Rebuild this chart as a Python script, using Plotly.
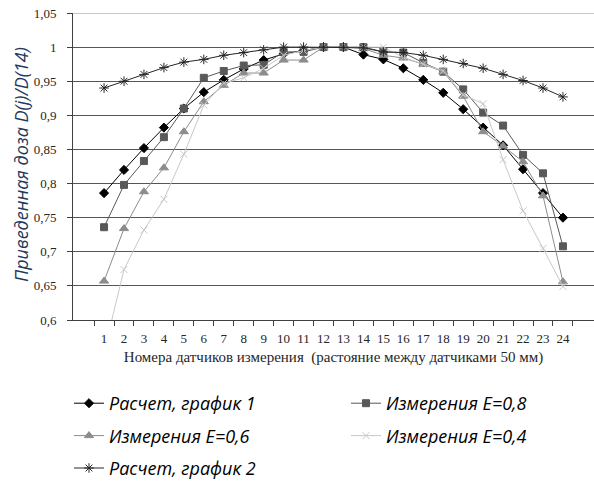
import plotly.graph_objects as go

categories = [str(i) for i in range(1, 25)]

calc1 = [0.786, 0.820, 0.852, 0.882, 0.910, 0.934, 0.952, 0.968, 0.981, 0.990, 0.995, 1.000,
         1.000, 0.989, 0.982, 0.969, 0.952, 0.933, 0.909, 0.882, 0.856, 0.821, 0.786, 0.750]
meas08 = [0.736, 0.798, 0.833, 0.868, 0.910, 0.955, 0.965, 0.973, 0.974, 0.993, 0.993, 1.000,
          1.000, 1.000, 0.993, 0.992, 0.977, 0.964, 0.938, 0.904, 0.885, 0.842, 0.815, 0.708]
meas06 = [0.657, 0.734, 0.788, 0.823, 0.876, 0.920, 0.944, 0.962, 0.962, 0.981, 0.981, 1.000,
          1.000, 0.998, 0.988, 0.984, 0.975, 0.964, 0.928, 0.876, 0.855, 0.832, 0.782, 0.656]
meas04 = [0.553, 0.674, 0.732, 0.777, 0.843, 0.915, 0.947, 0.955, 0.969, 0.988, 0.995, 1.000,
          1.000, 1.000, 1.000, 0.985, 0.975, 0.965, 0.930, 0.917, 0.835, 0.760, 0.705, 0.649]
calc2 = [0.940, 0.950, 0.960, 0.970, 0.978, 0.982, 0.988, 0.992, 0.996, 1.000, 1.000, 1.000,
         1.000, 0.999, 0.993, 0.992, 0.988, 0.982, 0.976, 0.969, 0.960, 0.951, 0.940, 0.927]

ytick_vals = [0.6, 0.65, 0.7, 0.75, 0.8, 0.85, 0.9, 0.95, 1.0, 1.05]
ytick_text = ["0,6", "0,65", "0,7", "0,75", "0,8", "0,85", "0,9", "0,95", "1", "1,05"]
y_max = 1.05

y_title = "Приведенная доза D(j)/D(14)"
x_title = "Номера датчиков измерения  (растояние между датчиками 50 мм)"

# name, values, colour, symbol, size, legend column
series = [
    ("Расчет, график 1", calc1, "#000000", "diamond", 7, "legend"),
    ("Измерения E=0,8", meas08, "#595959", "square", 7, "legend2"),
    ("Измерения E=0,6", meas06, "#8c8c8c", "triangle-up", 8, "legend"),
    ("Измерения E=0,4", meas04, "#c8c8c8", "x-thin-open", 7, "legend2"),
    ("Расчет, график 2", calc2, "#262626", "asterisk-open", 8, "legend"),
]

fig = go.Figure()
for i, (name, vals, col, sym, sz, lg) in enumerate(series):
    fig.add_trace(go.Scatter(
        x=categories, y=vals, name=name, mode="lines+markers",
        line=dict(color=col, width=1),
        marker=dict(symbol=sym, size=sz, color=col, line=dict(color=col, width=1)),
        legend=lg, legendgroup="g%d" % i,
    ))

W, H = 594, 482
ML, MT, MB = 73, 13, 162
PW, PH = W - ML, H - MT - MB
legend_font = dict(family="Open Sans", size=18, color="#000000", style="italic")
fig.update_layout(
    width=W, height=H,
    margin=dict(l=ML, r=0, t=MT, b=MB, autoexpand=False),
    paper_bgcolor="white", plot_bgcolor="white",
    showlegend=True,
    legend=dict(
        orientation="v", xref="container", yref="container",
        x=69 / W, y=(H - 385) / H, xanchor="left", yanchor="top",
        font=legend_font, tracegroupgap=6, itemwidth=30,
        bgcolor="rgba(0,0,0,0)",
    ),
    legend2=dict(
        orientation="v", xref="container", yref="container",
        x=346 / W, y=(H - 385) / H, xanchor="left", yanchor="top",
        font=legend_font, tracegroupgap=6, itemwidth=30,
        bgcolor="rgba(0,0,0,0)",
    ),
    xaxis=dict(
        type="category", tickson="boundaries", tickangle=0,
        ticks="outside", ticklen=5, tickcolor="#404040",
        showline=True, linecolor="#404040", linewidth=1,
        showgrid=False, automargin=False,
        tickfont=dict(family="Liberation Serif", size=13, color="#262626"),
        ticklabelstandoff=6,
        title=dict(text=x_title,
                   font=dict(family="Liberation Serif", size=15, color="#262626"), standoff=6),
        fixedrange=True,
    ),
    yaxis=dict(
        range=[0.6, y_max], tickvals=ytick_vals, ticktext=ytick_text,
        ticks="outside", ticklen=5, tickcolor="#404040",
        showline=True, linecolor="#404040", linewidth=1,
        showgrid=True, gridcolor="#555555", gridwidth=1,
        zeroline=False, automargin=False,
        tickfont=dict(family="Liberation Serif", size=13, color="#262626"),
        ticklabelstandoff=8, ticklabeloverflow="allow",
    ),
    shapes=[dict(type="line", xref="paper", yref="y", x0=0, x1=1, y0=y_max, y1=y_max,
                 line=dict(color="#b5b5b5", width=1.5), layer="above")],
    annotations=[dict(
        text=y_title, textangle=-90, showarrow=False,
        xref="paper", yref="paper",
        x=(21 - ML) / PW, y=1 - (165 - MT) / PH,
        xanchor="center", yanchor="middle",
        font=dict(family="Open Sans", size=18, color="#1F3A60", style="italic"),
    )],
)

# remove the browser's default 8px body margin so the figure fills the window
fig.write_html("out.html",
               config={"displayModeBar": False},
               post_script="document.body.style.margin='0';document.body.style.overflow='hidden';")
